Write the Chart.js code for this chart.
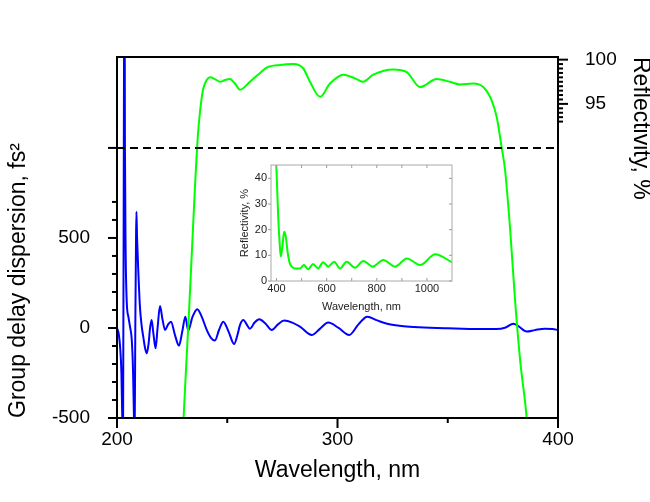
<!DOCTYPE html>
<html>
<head>
<meta charset="utf-8">
<script src="https://cdn.jsdelivr.net/npm/chart.js@4.4.0/dist/chart.umd.min.js"></script>
<style>
  body { margin: 0; background: #fff; }
  #wrap { position: relative; width: 650px; height: 502px; }
  #mainChart { position: absolute; left: 0; top: 0; }
  #insetChart { position: absolute; left: 232px; top: 156px; }
</style>
</head>
<body>
<div id="wrap">
  <canvas id="mainChart" width="650" height="502"></canvas>
  <canvas id="insetChart" width="228" height="162"></canvas>
</div>
<script>
// group delay dispersion (blue, left axis)
var gddWavelength = [200, 200.8, 201.4, 202.0, 202.4, 202.7, 203.2, 203.4, 203.6, 203.9, 204.4, 205.2, 205.9, 206.7, 207.3, 207.7, 207.95, 208.3, 208.6, 208.8, 209.1, 209.7, 210.4, 211.2, 211.9, 212.7, 213.5, 214.3, 215.0, 215.7, 216.5, 217.5, 218.4, 219.5, 220.6, 221.8, 223.2, 224.5, 226.3, 228.1, 229.6, 231.0, 232.3, 234.2, 236.4, 238.5, 240.7, 242.6, 244.4, 246.3, 248.2, 250.6, 253.1, 254.6, 255.8, 257.3, 258.8, 260.3, 262.4, 264.5, 267.3, 270.2, 273.0, 275.8, 279.5, 283.0, 288.3, 292.0, 295.8, 300.5, 305.3, 309.5, 313.5, 318, 323, 330, 337, 350, 360, 372, 376.3, 379.7, 382, 385.8, 389.5, 394, 397.5, 400];
var gddValues = [0, -35, -104, -250, -500, -800, 1600, 2200, 1000, 450, 150, 60, 7, -67, -250, -500, -700, 0, 450, 646, 500, 304, 118, 10, -48, -110, -141, -90, 0, 44, -30, -113, 0, 122, 50, -11, 20, 35, -40, -98, -20, 63, -15, 60, 104, 60, -11, -55, -70, -10, 35, -20, -89, -40, 17, 44, 20, -4, 30, 48, 25, -11, 20, 41, 30, 7, -39, -5, 30, 0, -39, 20, 63, 42, 22, 10, 4, -2, -5, -6, 3, 24, 10, -20, -12, -4, -6, -11];

// reflectivity of the mirror (green, right axis)
var reflWavelength = [229.8, 230.2, 231.3, 232.7, 234.0, 235.4, 236.7, 237.6, 239.0, 240.7, 242.2, 244.4, 246.7, 249.0, 251.2, 253.5, 255.8, 260.3, 264.9, 267.9, 273.9, 280.0, 284.5, 287.5, 292.1, 296.6, 302.6, 308.7, 311.6, 316.2, 325.3, 331.4, 337.4, 345.0, 351.0, 355.6, 361.6, 366.1, 369.9, 372.2, 374.5, 376.0, 378.3, 380.5, 382.8, 385.8, 386.5];
var reflValues = [57, 59.5, 65.0, 71.7, 78.5, 85.8, 91.5, 94.0, 96.6, 97.7, 98.0, 97.8, 97.5, 97.7, 97.8, 97.3, 96.6, 97.5, 98.5, 99.1, 99.4, 99.5, 99.0, 97.5, 95.8, 97.3, 98.3, 97.8, 97.5, 98.3, 98.9, 98.6, 96.9, 97.8, 97.5, 97.2, 97.3, 96.9, 95.4, 93.5, 90.0, 87.5, 80.8, 72.9, 66.1, 59.5, 57];

// dashed break line
var breakWavelength = [200, 400];
var breakLevel = [1000, 1000];

// inset: reflectivity over a wide range
var insetWavelength = [396, 400, 406.4, 413, 417, 424, 430.5, 437, 444, 453, 463, 473, 493, 509, 526, 546, 566, 586, 606, 630, 653, 680, 713, 746, 784, 826, 873, 920, 973, 1033, 1100];
var insetValues = [50, 43, 25.7, 14, 9.5, 14, 19.2, 17.3, 11.4, 6.9, 5.4, 4.9, 4.9, 6.2, 4.6, 6.6, 4.9, 7.3, 5.6, 7.5, 4.9, 7.5, 5.2, 7.8, 5.6, 8.2, 5.6, 8.8, 6.2, 10.4, 7.3];

// ticks
var wlLabels = [200, 300, 400];
var wlMinor = [250, 350];
var gddLabels = [-500, 0, 500];
var gddMajor = [-500, 0, 500, 1000];
var gddMinor = [-400, -300, -200, -100, 100, 200, 300, 400, 600, 700];
var reflLabels = [95, 100];
var reflMinor = [93, 93.5, 94, 94.5, 95.5, 96, 96.5, 97, 97.5, 98, 98.5, 99, 99.5];
var insetXLabels = [400, 600, 800, 1000];
var insetXMinor = [500, 700, 900];
var insetYLabels = [0, 10, 20, 30, 40];

function pts(xs, ys) {
	return xs.map(function(x, i) { return {x: x, y: ys[i]}; });
}

Chart.defaults.font.family = '"Liberation Sans", Arial, sans-serif';
Chart.defaults.color = '#000';

// frame and tick marks drawn through the chart's own scales
var axisMarks = {
	id: 'axisMarks',
	afterDatasetsDraw: function(chart, args, opts) {
		var ctx = chart.ctx, a = chart.chartArea;
		ctx.save();
		ctx.lineCap = 'butt';
		(opts.marks || []).forEach(function(m) {
			var s = chart.scales[m.axis];
			ctx.strokeStyle = m.color || opts.color;
			ctx.lineWidth = m.width || opts.width;
			m.values.forEach(function(v) {
				var p = s.getPixelForValue(v);
				ctx.beginPath();
				if (m.edge === 'left') { ctx.moveTo(a.left, p); ctx.lineTo(a.left - m.len, p); }
				else if (m.edge === 'right') { ctx.moveTo(a.right, p); ctx.lineTo(a.right + m.len, p); }
				else if (m.edge === 'top') { ctx.moveTo(p, a.top); ctx.lineTo(p, a.top - m.len); }
				else { ctx.moveTo(p, a.bottom); ctx.lineTo(p, a.bottom + m.len); }
				ctx.stroke();
			});
		});
		ctx.strokeStyle = opts.frameColor;
		ctx.lineWidth = opts.frameWidth;
		ctx.strokeRect(a.left, a.top, a.right - a.left, a.bottom - a.top);
		ctx.restore();
	}
};

function fixSize(prop, val) {
	return function(scale) { scale[prop] = val; };
}
function setTicks(vals) {
	return function(scale) { scale.ticks = vals.map(function(v) { return {value: v}; }); };
}

new Chart(document.getElementById('mainChart'), {
	type: 'scatter',
	data: {
		datasets: [{
			data: pts(breakWavelength, breakLevel),
			yAxisID: 'y',
			showLine: true,
			borderColor: '#000',
			borderWidth: 2,
			borderDash: [8, 5],
			pointRadius: 0
		}, {
			data: pts(reflWavelength, reflValues),
			yAxisID: 'y1',
			showLine: true,
			borderColor: '#00ff00',
			borderWidth: 2,
			cubicInterpolationMode: 'monotone',
			pointRadius: 0
		}, {
			data: pts(gddWavelength, gddValues),
			yAxisID: 'y',
			showLine: true,
			borderColor: '#0000ff',
			borderWidth: 2,
			cubicInterpolationMode: 'monotone',
			pointRadius: 0
		}]
	},
	options: {
		responsive: false,
		animation: false,
		devicePixelRatio: 1,
		layout: { padding: { top: 57, left: 0, right: 0, bottom: 0 } },
		plugins: {
			legend: { display: false },
			tooltip: { enabled: false },
			axisMarks: {
				color: '#000', width: 2, frameColor: '#000', frameWidth: 2,
				marks: [
					{ axis: 'y', edge: 'left', values: gddMajor, len: 9 },
					{ axis: 'y', edge: 'left', values: gddMinor, len: 5 },
					{ axis: 'x', edge: 'bottom', values: wlLabels, len: 10 },
					{ axis: 'x', edge: 'bottom', values: wlMinor, len: 5 },
					{ axis: 'y1', edge: 'right', values: reflLabels, len: 10 },
					{ axis: 'y1', edge: 'right', values: reflMinor, len: 5 }
				]
			}
		},
		scales: {
			x: {
				type: 'linear', min: 200, max: 400,
				afterFit: fixSize('height', 84),
				afterBuildTicks: setTicks(wlLabels),
				grid: { drawOnChartArea: false, tickLength: 10, tickColor: 'rgba(0,0,0,0)' },
				border: { display: false },
				ticks: { font: { size: 19 }, padding: 0, maxRotation: 0, callback: function(v) { return String(v); } },
				title: { display: true, text: 'Wavelength, nm', font: { size: 23 }, padding: { top: 18, bottom: 18 } }
			},
			y: {
				type: 'linear', position: 'left', min: -500, max: 1505,
				afterFit: fixSize('width', 117),
				afterBuildTicks: setTicks(gddLabels),
				grid: { drawOnChartArea: false, tickLength: 10, tickColor: 'rgba(0,0,0,0)' },
				border: { display: false },
				ticks: { font: { size: 19 }, padding: 17, callback: function(v) { return String(v); } },
				title: { display: true, align: 'start', text: 'Group delay dispersion, fs\u00b2', font: { size: 23 }, padding: { top: 5, bottom: 0 } }
			},
			y1: {
				type: 'linear', position: 'right', min: 59.5, max: 100.3,
				afterFit: fixSize('width', 92),
				afterBuildTicks: setTicks(reflLabels),
				grid: { drawOnChartArea: false, tickLength: 10, tickColor: 'rgba(0,0,0,0)' },
				border: { display: false },
				ticks: { font: { size: 19 }, padding: 17, callback: function(v) { return String(v); } },
				title: { display: true, align: 'end', text: 'Reflectivity, %', font: { size: 23 }, padding: { top: -4, bottom: 0 } }
			}
		}
	},
	plugins: [axisMarks]
});

new Chart(document.getElementById('insetChart'), {
	type: 'scatter',
	data: {
		datasets: [{
			data: pts(insetWavelength, insetValues),
			showLine: true,
			borderColor: '#00ff00',
			borderWidth: 2,
			cubicInterpolationMode: 'monotone',
			pointRadius: 0
		}]
	},
	options: {
		responsive: false,
		animation: false,
		devicePixelRatio: 1,
		layout: { padding: { top: 9, left: 0, right: 8, bottom: 0 } },
		plugins: {
			legend: { display: false },
			tooltip: { enabled: false },
			axisMarks: {
				color: '#999', width: 1, frameColor: '#aaa', frameWidth: 1,
				marks: [
					{ axis: 'x', edge: 'top', values: insetXLabels.concat(insetXMinor), len: -3 },
					{ axis: 'x', edge: 'bottom', values: insetXLabels.concat(insetXMinor), len: -3 },
					{ axis: 'y', edge: 'left', values: insetYLabels, len: 3 },
					{ axis: 'y', edge: 'right', values: insetYLabels, len: -3 }
				]
			}
		},
		scales: {
			x: {
				type: 'linear', min: 378, max: 1100,
				afterFit: fixSize('height', 37),
				afterBuildTicks: setTicks(insetXLabels),
				grid: { drawOnChartArea: false, tickLength: 0, tickColor: 'rgba(0,0,0,0)' },
				border: { display: false },
				ticks: { font: { size: 11 }, color: '#222', padding: 1, maxRotation: 0, callback: function(v) { return String(v); } },
				title: { display: true, text: 'Wavelength, nm', font: { size: 11 }, color: '#222', padding: { top: 4, bottom: 4 } }
			},
			y: {
				type: 'linear', min: 0, max: 45.2,
				afterFit: fixSize('width', 39),
				afterBuildTicks: setTicks(insetYLabels),
				grid: { drawOnChartArea: false, tickLength: 3, tickColor: 'rgba(0,0,0,0)' },
				border: { display: false },
				ticks: { font: { size: 11 }, color: '#222', padding: 1, callback: function(v) { return String(v); } },
				title: { display: true, text: 'Reflectivity, %', font: { size: 11 }, color: '#222', padding: { top: 6, bottom: 0 } }
			}
		}
	},
	plugins: [axisMarks]
});
</script>
</body>
</html>
